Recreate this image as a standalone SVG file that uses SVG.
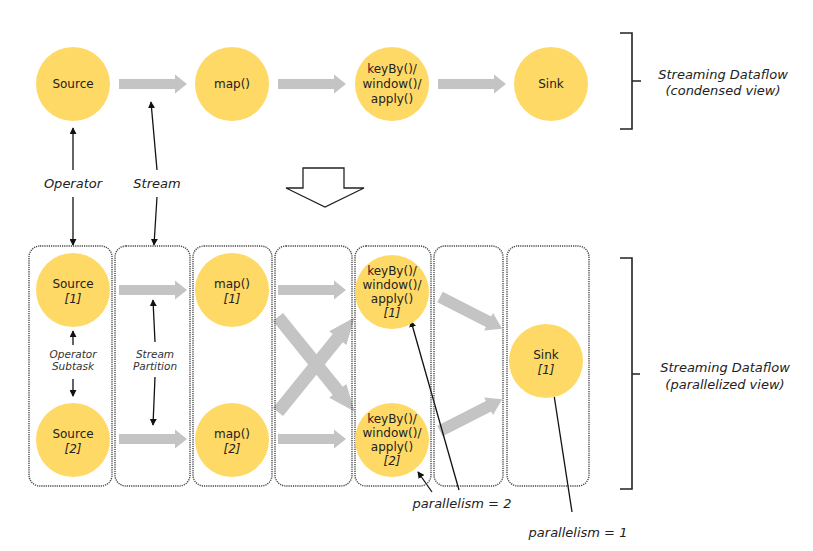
<svg xmlns="http://www.w3.org/2000/svg" xmlns:xlink="http://www.w3.org/1999/xlink" width="813" height="551" viewBox="0 0 813 551">
<style>
.n{fill:#FFD966}
.t{font-family:"DejaVu Sans",Verdana,sans-serif;font-size:12px;fill:#222;text-anchor:middle}
.ti{font-family:"DejaVu Sans",Verdana,sans-serif;font-size:12px;fill:#222;text-anchor:middle;font-style:italic}
.lab{font-family:"DejaVu Sans",Verdana,sans-serif;font-size:13px;fill:#222;text-anchor:middle;font-style:italic}
.sm{font-family:"DejaVu Sans",Verdana,sans-serif;font-size:10.5px;fill:#333;text-anchor:middle;font-style:italic}
.box{fill:none;stroke:#444;stroke-width:1.4;stroke-dasharray:1.2 1}
.bl{stroke:#111;stroke-width:1.3;fill:none}
.br{stroke:#222;stroke-width:1.6;fill:none}
.g{fill:#C4C4C4}
</style>
<defs>
<path id="ga" d="M0,-5 H56 V-9.5 L68,0 L56,9.5 V5 H0 Z"/>
<path id="gd" d="M0,-6.5 H50 V-11 L64,0 L50,11 V6.5 H0 Z"/>
<marker id="ah" viewBox="0 0 8 8" refX="7" refY="4" markerWidth="7" markerHeight="7" markerUnits="userSpaceOnUse" orient="auto">
<path d="M0,0 L8,4 L0,8 Z" fill="#111"/>
</marker>
</defs>

<g id="connectors">
<g class="g">
<use xlink:href="#ga" transform="translate(119,84)"/>
<use xlink:href="#ga" transform="translate(278,84)"/>
<use xlink:href="#ga" transform="translate(438,84)"/>
<use xlink:href="#ga" transform="translate(119,290)"/>
<use xlink:href="#ga" transform="translate(119,439)"/>
<use xlink:href="#ga" transform="translate(278,290)"/>
<use xlink:href="#ga" transform="translate(278,439)"/>
<use xlink:href="#gd" transform="translate(278,317) rotate(51) scale(1.9,1)"/>
<use xlink:href="#gd" transform="translate(278,412) rotate(-51) scale(1.9,1)"/>
<use xlink:href="#gd" transform="translate(440,297) rotate(27) scale(1.09,0.9)"/>
<use xlink:href="#gd" transform="translate(440,431) rotate(-27) scale(1.09,0.9)"/>
</g>
<line class="bl" x1="73" y1="170" x2="73" y2="128" marker-end="url(#ah)"/>
<line class="bl" x1="73" y1="197" x2="73" y2="245" marker-end="url(#ah)"/>
<line class="bl" x1="157" y1="170" x2="151" y2="102" marker-end="url(#ah)"/>
<line class="bl" x1="157" y1="197" x2="154" y2="245" marker-end="url(#ah)"/>
<line class="bl" x1="73" y1="345" x2="73" y2="331" marker-end="url(#ah)"/>
<line class="bl" x1="73" y1="379" x2="73" y2="396" marker-end="url(#ah)"/>
<line class="bl" x1="155" y1="342" x2="153" y2="300" marker-end="url(#ah)"/>
<line class="bl" x1="155" y1="377" x2="153" y2="425" marker-end="url(#ah)"/>
<line class="bl" x1="459" y1="490" x2="411" y2="321" marker-end="url(#ah)"/>
<line class="bl" x1="432" y1="492" x2="418" y2="472" marker-end="url(#ah)"/>
<line class="bl" x1="572" y1="512" x2="552" y2="382" marker-end="url(#ah)"/>
<path d="M303,168 H344 V188 H364 L325,207 L286,188 H303 Z" fill="#fff" stroke="#222" stroke-width="1.3"/>
</g>

<g id="brackets">
<path class="br" d="M620,33 H632 V129 H620 M632,81 H641"/>
<path class="br" d="M620,258 H632 V489 H620 M632,374 H640"/>
<text class="lab" x="723" y="79">Streaming Dataflow</text>
<text class="lab" x="723" y="95">(condensed view)</text>
<text class="lab" x="725" y="372">Streaming Dataflow</text>
<text class="lab" x="725" y="389">(parallelized view)</text>
</g>

<g id="boxes">
<rect class="box" x="29" y="246" width="83" height="240" rx="11"/>
<rect class="box" x="115" y="246" width="75" height="240" rx="11"/>
<rect class="box" x="193" y="246" width="79" height="240" rx="11"/>
<rect class="box" x="275" y="246" width="77" height="240" rx="11"/>
<rect class="box" x="355" y="246" width="76" height="240" rx="11"/>
<rect class="box" x="434" y="246" width="69" height="240" rx="11"/>
<rect class="box" x="507" y="246" width="82" height="240" rx="11"/>
</g>

<g id="source"><circle class="n" cx="73" cy="84" r="37"/><text class="t" x="73" y="88">Source</text></g>
<g id="map"><circle class="n" cx="232" cy="84" r="37"/><text class="t" x="232" y="88">map()</text></g>
<g id="keyby"><circle class="n" cx="392" cy="84" r="37"/><text class="t" x="392" y="73">keyBy()/</text><text class="t" x="392" y="88">window()/</text><text class="t" x="392" y="103">apply()</text></g>
<g id="sink"><circle class="n" cx="551" cy="84" r="37"/><text class="t" x="551" y="88">Sink</text></g>

<g id="labels-top">
<text class="lab" x="73" y="188">Operator</text>
<text class="lab" x="157" y="188">Stream</text>
</g>

<g id="source1"><circle class="n" cx="73" cy="290" r="37"/><text class="t" x="73" y="288">Source</text><text class="ti" x="73" y="303">[1]</text></g>
<g id="source2"><circle class="n" cx="73" cy="440" r="37"/><text class="t" x="73" y="438">Source</text><text class="ti" x="73" y="453">[2]</text></g>
<g id="map1"><circle class="n" cx="232" cy="290" r="37"/><text class="t" x="232" y="288">map()</text><text class="ti" x="232" y="303">[1]</text></g>
<g id="map2"><circle class="n" cx="232" cy="440" r="37"/><text class="t" x="232" y="438">map()</text><text class="ti" x="232" y="453">[2]</text></g>
<g id="keyby1"><circle class="n" cx="392" cy="292" r="37"/><text class="t" x="392" y="275">keyBy()/</text><text class="t" x="392" y="289">window()/</text><text class="t" x="392" y="303">apply()</text><text class="ti" x="392" y="317">[1]</text></g>
<g id="keyby2"><circle class="n" cx="392" cy="440" r="37"/><text class="t" x="392" y="423">keyBy()/</text><text class="t" x="392" y="437">window()/</text><text class="t" x="392" y="451">apply()</text><text class="ti" x="392" y="465">[2]</text></g>
<g id="sink1"><circle class="n" cx="546" cy="361" r="37"/><text class="t" x="546" y="359">Sink</text><text class="ti" x="546" y="374">[1]</text></g>

<g id="labels-bottom">
<text class="sm" x="73" y="358">Operator</text>
<text class="sm" x="73" y="370">Subtask</text>
<text class="sm" x="155" y="358">Stream</text>
<text class="sm" x="155" y="370">Partition</text>
<text class="lab" x="462" y="508">parallelism = 2</text>
<text class="lab" x="578" y="537">parallelism = 1</text>
</g>
</svg>
